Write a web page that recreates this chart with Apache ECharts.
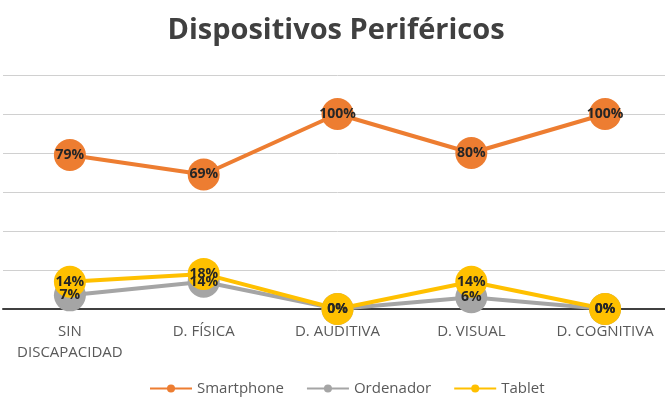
<!DOCTYPE html>
<html>
<head>
<meta charset="utf-8">
<script src="https://cdn.jsdelivr.net/npm/echarts@6/dist/echarts.min.js"></script>
<style>
  html, body { margin: 0; padding: 0; background: #fff; overflow: hidden; }
  #main { width: 672px; height: 401px; }
</style>
</head>
<body>
<div id="main"></div>
<script>
var categories = ['SIN\nDISCAPACIDAD', 'D. FÍSICA', 'D. AUDITIVA', 'D. VISUAL', 'D. COGNITIVA'];
var smartphone = [79, 69, 100, 80, 100];
var ordenador = [7, 14, 0, 6, 0];
var tablet = [14, 18, 0, 14, 0];

var chart = echarts.init(document.getElementById('main'));

function serie(name, data, color) {
  return {
    name: name,
    type: 'line',
    data: data,
    symbol: 'circle',
    symbolSize: 32,
    itemStyle: { color: color },
    lineStyle: { color: color, width: 4 },
    label: {
      show: true,
      position: 'inside',
      formatter: '{c}%',
      color: '#262626',
      fontWeight: 'bold',
      fontSize: 14,
      fontFamily: 'Open Sans'
    },
    emphasis: { disabled: true }
  };
}

var option = {
  animation: false,
  title: {
    text: 'Dispositivos Periféricos',
    left: 'center',
    top: 11,
    textStyle: {
      fontFamily: 'Open Sans',
      fontSize: 29,
      fontWeight: 'bold',
      color: '#404040'
    }
  },
  legend: {
    bottom: 0,
    left: 144,
    itemWidth: 42,
    itemHeight: 10,
    itemGap: 22,
    textStyle: { fontFamily: 'Open Sans', fontSize: 15, color: '#595959' },
    data: ['Smartphone', 'Ordenador', 'Tablet']
  },
  grid: { left: 3, top: 75, right: 0, height: 234 },
  xAxis: {
    type: 'category',
    data: categories,
    boundaryGap: true,
    axisLine: { lineStyle: { color: '#404040', width: 2 } },
    axisTick: { show: false },
    axisLabel: {
      interval: 0,
      color: '#595959',
      fontSize: 15,
      fontFamily: 'Open Sans',
      margin: 12,
      lineHeight: 21
    }
  },
  yAxis: {
    type: 'value',
    min: 0,
    max: 120,
    interval: 20,
    axisLabel: { show: false },
    axisLine: { show: false },
    axisTick: { show: false },
    splitLine: { lineStyle: { color: '#d0d0d0', width: 1 } }
  },
  series: [
    serie('Smartphone', smartphone, '#ED7D31'),
    serie('Ordenador', ordenador, '#A5A5A5'),
    serie('Tablet', tablet, '#FFC000')
  ]
};
chart.setOption(option);
</script>
</body>
</html>
